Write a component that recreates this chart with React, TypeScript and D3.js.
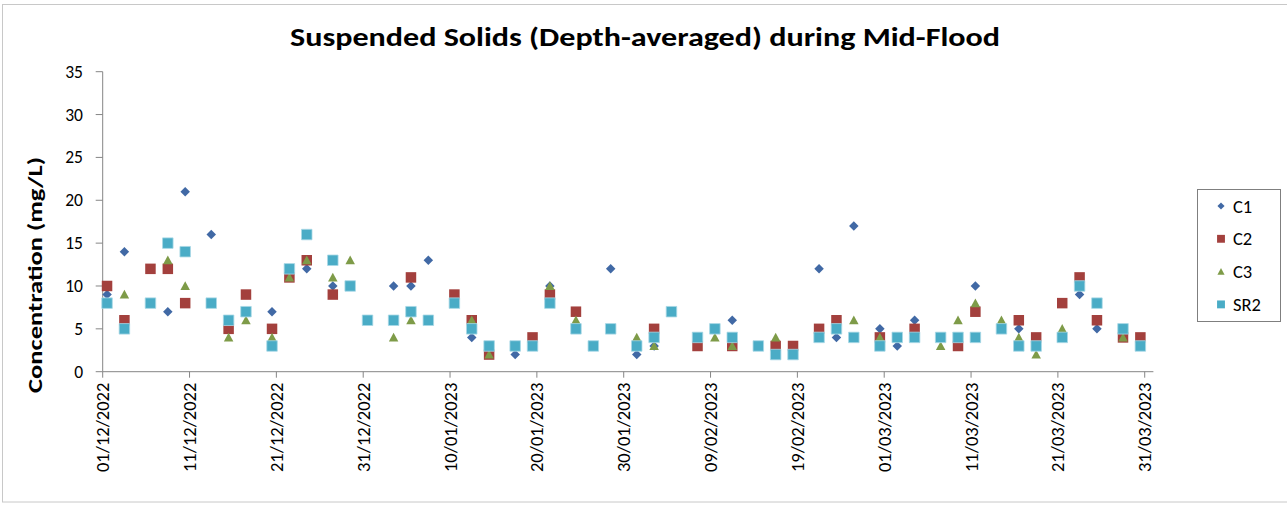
import React from 'react';
import * as d3 from 'd3';

const TITLE = 'Suspended Solids (Depth-averaged) during Mid-Flood';
const Y_TITLE = 'Concentration (mg/L)';
const yTicks = [0, 5, 10, 15, 20, 25, 30, 35];
const xTickDates = [
  '2022-12-01', '2022-12-11', '2022-12-21', '2022-12-31', '2023-01-10', '2023-01-20',
  '2023-01-30', '2023-02-09', '2023-02-19', '2023-03-01', '2023-03-11', '2023-03-21', '2023-03-31',
];
const xDomain = ['2022-12-01', '2023-04-01'];

const c1: [string, number][] = [
  ['2022-12-01', 9], ['2022-12-03', 14], ['2022-12-08', 7], ['2022-12-10', 21], ['2022-12-13', 16],
  ['2022-12-20', 7], ['2022-12-24', 12], ['2022-12-27', 10], ['2023-01-03', 10], ['2023-01-05', 10],
  ['2023-01-07', 13], ['2023-01-12', 4], ['2023-01-17', 2], ['2023-01-21', 10], ['2023-01-28', 12],
  ['2023-01-31', 2], ['2023-02-02', 3], ['2023-02-11', 6], ['2023-02-21', 12], ['2023-02-23', 4],
  ['2023-02-25', 17], ['2023-02-28', 5], ['2023-03-02', 3], ['2023-03-04', 6], ['2023-03-11', 10],
  ['2023-03-16', 5], ['2023-03-23', 9], ['2023-03-25', 5],
];
const c2: [string, number][] = [
  ['2022-12-01', 10], ['2022-12-03', 6], ['2022-12-06', 12], ['2022-12-08', 12], ['2022-12-10', 8],
  ['2022-12-15', 5], ['2022-12-17', 9], ['2022-12-20', 5], ['2022-12-22', 11], ['2022-12-24', 13],
  ['2022-12-27', 9], ['2023-01-05', 11], ['2023-01-10', 9], ['2023-01-12', 6], ['2023-01-14', 2],
  ['2023-01-19', 4], ['2023-01-21', 9], ['2023-01-24', 7], ['2023-02-02', 5], ['2023-02-07', 3],
  ['2023-02-11', 3], ['2023-02-16', 3], ['2023-02-18', 3], ['2023-02-21', 5], ['2023-02-23', 6],
  ['2023-02-28', 4], ['2023-03-04', 5], ['2023-03-09', 3], ['2023-03-11', 7], ['2023-03-16', 6],
  ['2023-03-18', 4], ['2023-03-21', 8], ['2023-03-23', 11], ['2023-03-25', 6], ['2023-03-28', 4],
  ['2023-03-30', 4],
];
const c3: [string, number][] = [
  ['2022-12-03', 9], ['2022-12-08', 13], ['2022-12-10', 10], ['2022-12-15', 4], ['2022-12-17', 6],
  ['2022-12-20', 4], ['2022-12-22', 11], ['2022-12-24', 13], ['2022-12-27', 11], ['2022-12-29', 13],
  ['2023-01-03', 4], ['2023-01-05', 6], ['2023-01-12', 6], ['2023-01-14', 2], ['2023-01-21', 10],
  ['2023-01-24', 6], ['2023-01-31', 4], ['2023-02-02', 3], ['2023-02-09', 4], ['2023-02-11', 3],
  ['2023-02-16', 4], ['2023-02-25', 6], ['2023-02-28', 4], ['2023-03-07', 3], ['2023-03-09', 6],
  ['2023-03-11', 8], ['2023-03-14', 6], ['2023-03-16', 4], ['2023-03-18', 2], ['2023-03-21', 5],
  ['2023-03-28', 4],
];
const sr2: [string, number][] = [
  ['2022-12-01', 8], ['2022-12-03', 5], ['2022-12-06', 8], ['2022-12-08', 15], ['2022-12-10', 14],
  ['2022-12-13', 8], ['2022-12-15', 6], ['2022-12-17', 7], ['2022-12-20', 3], ['2022-12-22', 12],
  ['2022-12-24', 16], ['2022-12-27', 13], ['2022-12-29', 10], ['2022-12-31', 6], ['2023-01-03', 6],
  ['2023-01-05', 7], ['2023-01-07', 6], ['2023-01-10', 8], ['2023-01-12', 5], ['2023-01-14', 3],
  ['2023-01-17', 3], ['2023-01-19', 3], ['2023-01-21', 8], ['2023-01-24', 5], ['2023-01-26', 3],
  ['2023-01-28', 5], ['2023-01-31', 3], ['2023-02-02', 4], ['2023-02-04', 7], ['2023-02-07', 4],
  ['2023-02-09', 5], ['2023-02-11', 4], ['2023-02-14', 3], ['2023-02-16', 2], ['2023-02-18', 2],
  ['2023-02-21', 4], ['2023-02-23', 5], ['2023-02-25', 4], ['2023-02-28', 3], ['2023-03-02', 4],
  ['2023-03-04', 4], ['2023-03-07', 4], ['2023-03-09', 4], ['2023-03-11', 4], ['2023-03-14', 5],
  ['2023-03-16', 3], ['2023-03-18', 3], ['2023-03-21', 4], ['2023-03-23', 10], ['2023-03-25', 8],
  ['2023-03-28', 5], ['2023-03-30', 3],
];

const seriesNames = ['C1', 'C2', 'C3', 'SR2'];
const seriesData = [c1, c2, c3, sr2];
const seriesColors = ['#4169A5', '#A3403D', '#7E9B48', '#4AACC6'];
const seriesShapes = ['diamond', 'square', 'triangle', 'square'];

const W = 1287, H = 505;
const plot = { left: 102.7, right: 1153.4, top: 71.7, bottom: 371.7 };
const parse = (s: string) => new Date(s + 'T00:00:00Z');
const fmt = d3.utcFormat('%d/%m/%Y');

function markerPath(shape: string, s: number) {
  const h = s / 2;
  if (shape === 'diamond') return `M0,${-h}L${h},0L0,${h}L${-h},0Z`;
  if (shape === 'triangle') return `M0,${-h}L${h},${h * 0.85}L${-h},${h * 0.85}Z`;
  return `M${-h},${-h}H${h}V${h}H${-h}Z`;
}
const markerSize = (shape: string) => (shape === 'square' ? 10.5 : shape === 'diamond' ? 9.5 : 9.5);

export default function App() {
  const x = d3.scaleUtc().domain(xDomain.map(parse)).range([plot.left, plot.right]);
  const y = d3.scaleLinear().domain([0, 35]).range([plot.bottom, plot.top]);
  const halfDay = 12 * 3600 * 1000;
  const font = "Carlito, Calibri, 'Liberation Sans', Arial, sans-serif";

  return (
    <div style={{ position: 'absolute', left: 0, top: 0 }}>
      <svg width={W} height={H} style={{ display: 'block', fontFamily: font }}>
        <rect x={0} y={0} width={W} height={H} fill="#fff" />
        <rect x={2.5} y={4.5} width={W + 10} height={497.5} fill="none" stroke="#C8C8C8" strokeWidth={1} />
        <text x={645} y={46} textAnchor="middle" fontSize={27} fontWeight="bold" fill="#000"
          textLength={710} lengthAdjust="spacingAndGlyphs">{TITLE}</text>
        <text transform={`translate(42,${275}) rotate(-90)`} textAnchor="middle" fontSize={21}
          fontWeight="bold" fill="#000" textLength={236} lengthAdjust="spacingAndGlyphs">{Y_TITLE}</text>
        <line x1={plot.left} x2={plot.left} y1={plot.top} y2={plot.bottom} stroke="#868686" strokeWidth={1} />
        <line x1={plot.left} x2={plot.right} y1={plot.bottom} y2={plot.bottom} stroke="#868686" strokeWidth={1} />
        {yTicks.map((t) => (
          <g key={'y' + t}>
            <line x1={plot.left - 7} x2={plot.left} y1={y(t)} y2={y(t)} stroke="#868686" />
            <text x={83} y={y(t) + 6} textAnchor="end" fontSize={17.5} fill="#000">{t}</text>
          </g>
        ))}
        {xTickDates.map((d) => {
          const xx = x(parse(d));
          return (
            <g key={d}>
              <line x1={xx} x2={xx} y1={plot.bottom} y2={plot.bottom + 6} stroke="#868686" />
              <text transform={`translate(${xx + 6.5},${plot.bottom + 11}) rotate(-90)`} textAnchor="end"
                fontSize={18.5} fill="#000">{fmt(parse(d))}</text>
            </g>
          );
        })}
        {seriesData.map((data, si) => (
          <g key={seriesNames[si]}>
            {data.map(([d, v], i) => (
              <path key={i} d={markerPath(seriesShapes[si], markerSize(seriesShapes[si]))}
                transform={`translate(${x(new Date(parse(d).getTime() + halfDay))},${y(v)})`}
                fill={seriesColors[si]}
                stroke={si === 3 ? '#A8D8E6' : 'none'} strokeWidth={si === 3 ? 0.8 : 0} />
            ))}
          </g>
        ))}
        <rect x={1197.5} y={189.5} width={83} height={132} fill="#fff" stroke="#7F7F7F" strokeWidth={1} />
        {seriesNames.map((n, i) => {
          const ly = 206 + i * 32.8;
          return (
            <g key={n}>
              <path d={markerPath(seriesShapes[i], markerSize(seriesShapes[i]) * 0.75)}
                transform={`translate(1221,${ly})`} fill={seriesColors[i]} />
              <text x={1233} y={ly + 6.5} fontSize={18.5} fill="#000">{n}</text>
            </g>
          );
        })}
      </svg>
    </div>
  );
}
